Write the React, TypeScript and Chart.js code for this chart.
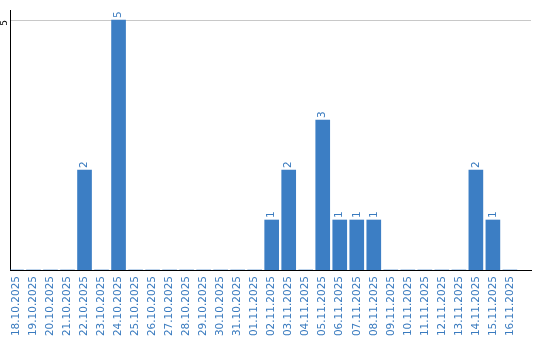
import React, { useEffect, useRef } from "react";
import { Chart, registerables } from "chart.js";

Chart.register(...registerables);

const dates = [
  "18.10.2025", "19.10.2025", "20.10.2025", "21.10.2025", "22.10.2025",
  "23.10.2025", "24.10.2025", "25.10.2025", "26.10.2025", "27.10.2025",
  "28.10.2025", "29.10.2025", "30.10.2025", "31.10.2025", "01.11.2025",
  "02.11.2025", "03.11.2025", "04.11.2025", "05.11.2025", "06.11.2025",
  "07.11.2025", "08.11.2025", "09.11.2025", "10.11.2025", "11.11.2025",
  "12.11.2025", "13.11.2025", "14.11.2025", "15.11.2025", "16.11.2025",
];
const counts = [
  0, 0, 0, 0, 2, 0, 5, 0, 0, 0,
  0, 0, 0, 0, 0, 1, 2, 0, 3, 1,
  1, 1, 0, 0, 0, 0, 0, 2, 1, 0,
];
const yTicks = [5];

const BAR_COLOR = "#3c7ec4";
const TEXT_BLUE = "#3a7bbf";
const FONT = "DejaVu Sans";

const valueLabels = {
  id: "valueLabels",
  afterDatasetsDraw(chart: any) {
    const ctx = chart.ctx;
    const meta = chart.getDatasetMeta(0);
    ctx.save();
    ctx.fillStyle = TEXT_BLUE;
    ctx.font = `10.5px '${FONT}'`;
    ctx.textAlign = "left";
    ctx.textBaseline = "middle";
    meta.data.forEach((el: any, i: number) => {
      const v = counts[i];
      if (!v) return;
      ctx.save();
      ctx.translate(el.x, el.y - 2);
      ctx.rotate(-Math.PI / 2);
      ctx.fillText(String(v), 0, 0);
      ctx.restore();
    });
    ctx.restore();
  },
};

export default function App() {
  const ref = useRef<HTMLCanvasElement>(null);
  useEffect(() => {
    document.body.style.margin = "0";
    const chart = new Chart(ref.current!, {
      type: "bar",
      data: {
        datasets: [
          {
            data: counts.map((v, i) => ({ x: i, y: v })),
            backgroundColor: BAR_COLOR,
            barThickness: 14,
          },
        ],
      },
      options: {
        animation: false,
        responsive: false,
        layout: { autoPadding: false, padding: { top: 10, right: 9, left: 0, bottom: 0 } },
        plugins: { legend: { display: false }, tooltip: { enabled: false } },
        scales: {
          x: {
            type: "linear",
            offset: false,
            bounds: "data",
            min: -0.38,
            max: 30.24,
            afterBuildTicks: (s: any) => {
              s.min = -0.38;
              s.max = 30.24;
              s.ticks = dates.map((_, i) => ({ value: i }));
            },
            afterFit: (s: any) => {
              s.height = 70;
              s.paddingLeft = 0;
              s.paddingRight = 0;
            },
            ticks: {
              autoSkip: false,
              minRotation: 90,
              maxRotation: 90,
              padding: 6,
              color: TEXT_BLUE,
              font: { family: FONT, size: 10.5 },
              callback: (v: any) => dates[v] ?? "",
            },
            grid: { display: false, drawTicks: false, offset: false },
            border: { display: true, color: "#000", width: 1 },
          },
          y: {
            min: 0,
            max: 5.2,
            afterBuildTicks: (s: any) => {
              s.min = 0;
              s.max = 5.2;
              s.ticks = yTicks.map((v) => ({ value: v }));
            },
            afterFit: (s: any) => {
              s.width = 10;
              s.paddingTop = 0;
              s.paddingBottom = 0;
            },
            ticks: {
              minRotation: 90,
              maxRotation: 90,
              padding: 5,
              color: "#000",
              font: { family: FONT, size: 9 },
            },
            grid: { color: "#c8c8c8", drawTicks: false },
            border: { display: true, color: "#000", width: 1 },
          },
        },
      },
      plugins: [valueLabels],
    });
    return () => chart.destroy();
  }, []);
  return <canvas ref={ref} width={540} height={340} style={{ display: "block" }} />;
}
